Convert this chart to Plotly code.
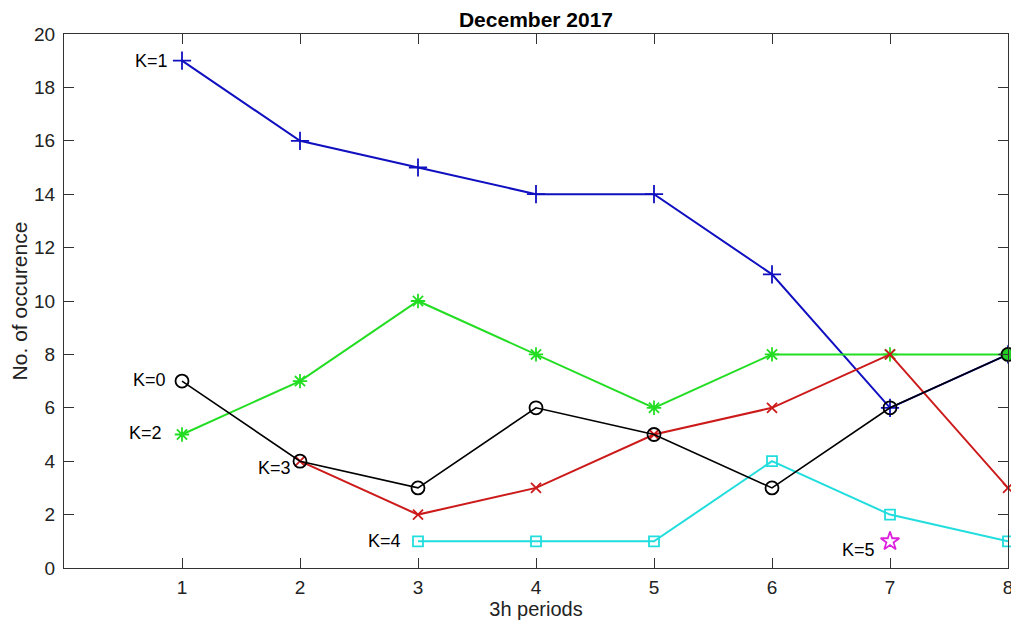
import plotly.graph_objects as go

periods = [1, 2, 3, 4, 5, 6, 7, 8]
k0 = [7, 4, 3, 6, 5, 3, 6, 8]
k1 = [19, 16, 15, 14, 14, 11, 6, 8]
k2 = [5, 7, 10, 8, 6, 8, 8, 8]
k3_x = [2, 3, 4, 5, 6, 7, 8]
k3 = [4, 2, 3, 5, 6, 8, 3]
k4_x = [3, 4, 5, 6, 7, 8]
k4 = [1, 1, 1, 4, 2, 1]
k5_x = [7]
k5 = [1]

labels = ["K=0", "K=1", "K=2", "K=3", "K=4", "K=5"]
label_pos = [(1, 7), (1, 19), (1, 5), (2, 4), (3, 1), (7, 1)]
label_shift = [(-14, 1), (-12, 0), (-18, 2), (-7, -7), (-15, 0), (-13, -9)]

FONT = "Liberation Sans, Arial, sans-serif"

fig = go.Figure()

def add(x, y, color, symbol, size=9, mode="lines+markers", width=2, fill=None):
    fig.add_trace(go.Scatter(
        x=x, y=y, mode=mode,
        line=dict(color=color, width=width),
        marker=dict(symbol=symbol, size=size, color=fill if fill else color,
                    line=dict(color=color, width=1.8)),
        showlegend=False, cliponaxis=False))

add(periods, k1, "#1010c0", "cross-thin-open", 13)
add(periods, k2, "#22dd22", "asterisk-open", 12)
add(k3_x, k3, "#cc1a1a", "x-thin-open", 10)
add(k4_x, k4, "#22dddd", "square-open", 10)
k0_fill = ["rgba(0,0,0,0)"] * (len(k0) - 1) + ["#22cc22"]
add(periods, k0, "#000000", "circle", 13, width=1.6, fill=k0_fill)
add(k5_x, k5, "#dd22dd", "star-open", 14, mode="markers")

for text, (x, y), (dx, dy) in zip(labels, label_pos, label_shift):
    fig.add_annotation(x=x, y=y, text=text, showarrow=False,
                       xanchor="right", yanchor="middle", xshift=dx, yshift=dy,
                       font=dict(family=FONT, size=18, color="#000"))

axis_common = dict(
    showgrid=False, zeroline=False, showline=True, linecolor="#333",
    linewidth=1, mirror="allticks", ticks="inside", ticklen=10,
    tickcolor="#333", tickfont=dict(family=FONT, size=19, color="#222"),
    automargin=False,
)

# page body has an 8px default margin, so the figure is sized to fit
W, H = 1011, 628
fig.update_layout(
    width=W, height=H,
    margin=dict(l=56, r=11, t=26, b=68),
    paper_bgcolor="white", plot_bgcolor="white",
    title=dict(text="<b>December 2017</b>", x=528 / W, xref="container",
               xanchor="center", y=1 - 12 / H, yref="container",
               yanchor="middle",
               font=dict(family=FONT, size=21, color="#000")),
    xaxis=dict(range=[0, 8], tickvals=periods, ticklabelstandoff=2,
               title=dict(text="3h periods", standoff=4,
                          font=dict(family=FONT, size=20, color="#222")),
               **axis_common),
    yaxis=dict(range=[0, 20], tickvals=list(range(0, 21, 2)),
               ticklabelstandoff=4,
               title=dict(text="No. of occurence", standoff=18,
                          font=dict(family=FONT, size=21, color="#222")),
               **axis_common),
)

fig.write_html("out.html")
